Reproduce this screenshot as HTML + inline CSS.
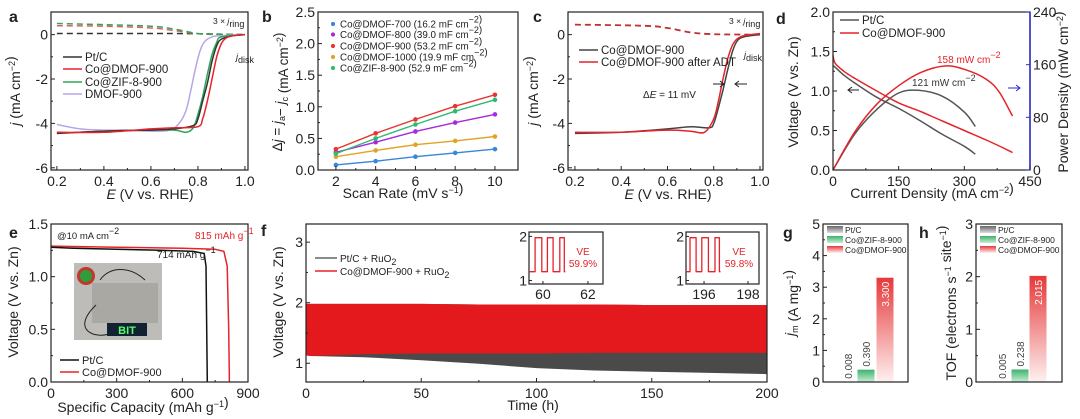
<!DOCTYPE html>
<html><head><meta charset="utf-8"><style>
html,body{margin:0;padding:0;background:#fff;}
svg{display:block;font-family:"Liberation Sans","Noto Sans CJK SC",sans-serif;}
</style></head><body>
<svg id="fig" width="1080" height="419" viewBox="0 0 1080 419" xmlns="http://www.w3.org/2000/svg">
<defs>
<linearGradient id="gGray" x1="0" y1="0" x2="0" y2="1"><stop offset="0" stop-color="#666"/><stop offset="1" stop-color="#ddd"/></linearGradient>
<linearGradient id="gGreen" x1="0" y1="0" x2="0" y2="1"><stop offset="0" stop-color="#3cb36a"/><stop offset="1" stop-color="#c9ecd6"/></linearGradient>
<linearGradient id="gRed" x1="0" y1="0" x2="0" y2="1"><stop offset="0" stop-color="#e5393a"/><stop offset="1" stop-color="#fff0f0"/></linearGradient>
</defs>
</svg>
<script>
// ---------- data ----------
const aE_pt=[0.2,0.4,0.6,0.7,0.78,0.8,0.82,0.84,0.86,0.88,0.9,0.95,1.0];
const aJ_pt=[-4.45,-4.35,-4.3,-4.25,-4.1,-3.8,-3.0,-2.2,-1.2,-0.5,-0.2,-0.05,0];
const aE_co=[0.2,0.4,0.6,0.7,0.8,0.82,0.84,0.86,0.88,0.9,0.92,0.95,1.0];
const aJ_co=[-4.4,-4.4,-4.25,-4.2,-4.15,-3.8,-3.0,-2.0,-1.0,-0.4,-0.15,-0.05,0];
const aE_zif=[0.2,0.4,0.6,0.7,0.75,0.78,0.8,0.82,0.84,0.86,0.88,0.9,1.0];
const aJ_zif=[-4.45,-4.35,-4.3,-4.3,-4.4,-4.2,-3.6,-2.8,-1.8,-0.9,-0.35,-0.1,0];
const aE_dm=[0.2,0.3,0.4,0.5,0.6,0.68,0.72,0.75,0.77,0.79,0.81,0.83,0.86,0.9,1.0];
const aJ_dm=[-4.05,-4.25,-4.3,-4.3,-4.35,-4.3,-4.0,-3.4,-2.5,-1.5,-0.7,-0.3,-0.1,-0.05,0];
const aRingE=[0.2,0.4,0.6,0.7,0.8,0.9,1.0];
const aRing_zif=[0.5,0.45,0.38,0.25,0.05,0.02,0];
const aRing_co=[0.4,0.38,0.3,0.18,0.04,0.01,0];
const aRing_pt=[0.05,0.05,0.05,0.05,0.04,0.02,0];
const bRate=[2,4,6,8,10];
const b700=[0.08,0.14,0.21,0.27,0.33];
const b800=[0.28,0.44,0.61,0.75,0.88];
const b900=[0.33,0.58,0.80,1.01,1.19];
const b1000=[0.21,0.31,0.40,0.46,0.53];
const bZif=[0.26,0.50,0.72,0.93,1.11];
const cE=[0.2,0.4,0.6,0.7,0.78,0.8,0.82,0.84,0.86,0.88,0.9,0.93,1.0];
const cJ_before=[-4.45,-4.4,-4.25,-4.15,-4.2,-4.0,-3.3,-2.5,-1.6,-0.8,-0.3,-0.1,0];
const cE2=[0.2,0.4,0.6,0.7,0.76,0.8,0.82,0.84,0.86,0.88,0.9,0.93,1.0];
const cJ_after=[-4.4,-4.4,-4.3,-4.35,-4.4,-3.8,-3.0,-2.0,-1.1,-0.5,-0.2,-0.05,0.05];
const cRingE=[0.2,0.5,0.6,0.7,0.8,1.0];
const cRing=[0.45,0.4,0.3,0.1,0.02,0];
const dI_pt=[0,5,25,50,100,150,200,250,300,325];
const dV_pt=[1.32,1.3,1.2,1.1,0.92,0.78,0.62,0.45,0.3,0.2];
const dI_co=[0,5,25,50,100,150,200,250,300,350,400,410];
const dV_co=[1.45,1.35,1.25,1.16,1.0,0.85,0.74,0.62,0.5,0.38,0.25,0.22];
const dPI_pt=[0,50,100,150,195,250,300,325];
const dP_pt=[0,55,92,117,121,112,88,66];
const dPI_co=[0,50,100,150,200,255,300,350,380,410];
const dP_co=[0,58,100,128,148,158,153,138,118,82];
const eC_pt=[0,100,300,500,650,700,708,714];
const eV_pt=[1.28,1.27,1.26,1.25,1.24,1.22,1.1,0];
const eC_co=[0,300,600,750,790,805,812,815];
const eV_co=[1.29,1.28,1.27,1.26,1.24,1.1,0.5,0];
const fT=[0,2,25,50,75,100,125,150,175,200];
const fRedTop=[1.98,1.98,1.98,1.98,1.97,1.97,1.97,1.96,1.96,1.96];
const fRedBot=[1.13,1.12,1.15,1.16,1.16,1.16,1.17,1.17,1.17,1.17];
const fGrayBot=[1.13,1.12,1.1,1.05,0.99,0.92,0.88,0.86,0.84,0.82];
const in1T=[59.38,59.65,59.65,59.95,59.95,60.2,60.2,60.45,60.45,60.75,60.75,60.95,60.95,61.0];
const in1V=[1.2,1.2,1.97,1.97,1.2,1.2,1.97,1.97,1.2,1.2,1.97,1.97,1.2,1.2];
const in2T=[195.18,195.36,195.36,195.64,195.64,195.9,195.9,196.2,196.2,196.5,196.5,196.7,196.7,196.75];
const in2V=[1.2,1.2,1.97,1.97,1.2,1.2,1.97,1.97,1.2,1.2,1.97,1.97,1.2,1.2];
const barCats=["Pt/C","Co@ZIF-8-900","Co@DMOF-900"];
const gVals=[0.008,0.390,3.300];
const gLabels=["0.008","0.390","3.300"];
const hVals=[0.005,0.238,2.015];
const hLabels=["0.005","0.238","2.015"];

// ---------- helpers ----------
const NS="http://www.w3.org/2000/svg";
const svg=document.getElementById('fig');
function el(tag,attrs,name,parent){
  const e=document.createElementNS(NS,tag);
  for(const k in attrs)e.setAttribute(k,attrs[k]);
  
  
  (parent||svg).appendChild(e);return e;
}
function txt(x,y,html,name,o){
  o=o||{};
  const t=el('text',{x:x,y:y,'font-size':o.fs||14,fill:o.fill||'#222','text-anchor':o.anchor||'middle'},name);
  if(o.rot)t.setAttribute('transform','rotate('+o.rot+' '+x+' '+y+')');
  if(o.bold)t.setAttribute('font-weight','bold');
  t.innerHTML=html;return t;
}
function P(x0,x1,y0,y1,xd,yd){return {x0,x1,y0,y1,X:v=>x0+(v-xd[0])/(xd[1]-xd[0])*(x1-x0),Y:v=>y1-(v-yd[0])/(yd[1]-yd[0])*(y1-y0)};}
function box(p,name){el('rect',{x:p.x0,y:p.y0,width:p.x1-p.x0,height:p.y1-p.y0,fill:'none',stroke:'#222','stroke-width':1.2},name);}
function xt(p,vals,labs,name,minor){
  vals.forEach((v,i)=>{const x=p.X(v);
    el('line',{x1:x,x2:x,y1:p.y1,y2:p.y1-4,stroke:'#222'},name+'-tick');
    txt(x,p.y1+16,labs[i],name+'-label');});
  (minor||[]).forEach(v=>{const x=p.X(v);el('line',{x1:x,x2:x,y1:p.y1,y2:p.y1-2,stroke:'#222'},name+'-minor');});
}
function yt(p,vals,labs,name,minor){
  vals.forEach((v,i)=>{const y=p.Y(v);
    el('line',{x1:p.x0,x2:p.x0+4,y1:y,y2:y,stroke:'#222'},name+'-tick');
    txt(p.x0-3,y+5,labs[i],name+'-label',{anchor:'end'});});
  (minor||[]).forEach(v=>{const y=p.Y(v);el('line',{x1:p.x0,x2:p.x0+2,y1:y,y2:y,stroke:'#222'},name+'-minor');});
}
function path(p,xs,ys,color,name,o){
  o=o||{};
  const d=xs.map((x,i)=>(i?'L':'M')+p.X(x).toFixed(1)+','+p.Y(ys[i]).toFixed(1)).join('');
  const e=el('path',{d:d,fill:'none',stroke:color,'stroke-width':o.w||1.5,'stroke-linejoin':'round'},name);
  if(o.dash)e.setAttribute('stroke-dasharray',o.dash);
  return e;
}
function smooth(p,xs,ys,color,name,o){
  const pts=xs.map((x,i)=>[p.X(x),p.Y(ys[i])]);
  let d='M'+pts[0][0]+','+pts[0][1];
  for(let i=0;i<pts.length-1;i++){
    const p0=pts[Math.max(0,i-1)],p1=pts[i],p2=pts[i+1],p3=pts[Math.min(pts.length-1,i+2)];
    const c1=[p1[0]+(p2[0]-p0[0])/6,p1[1]+(p2[1]-p0[1])/6],c2=[p2[0]-(p3[0]-p1[0])/6,p2[1]-(p3[1]-p1[1])/6];
    d+='C'+c1[0].toFixed(1)+','+c1[1].toFixed(1)+' '+c2[0].toFixed(1)+','+c2[1].toFixed(1)+' '+p2[0].toFixed(1)+','+p2[1].toFixed(1);
  }
  const e=el('path',{d:d,fill:'none',stroke:color,'stroke-width':(o&&o.w)||1.5},name);
  if(o&&o.dash)e.setAttribute('stroke-dasharray',o.dash);
  return e;
}
function legLine(x,y,color,label,name,fs,len){
  el('line',{x1:x,x2:x+(len||19),y1:y,y2:y,stroke:color,'stroke-width':1.6},name+'-swatch');
  txt(x+(len||19)+3,y+4,label,name+'-text',{anchor:'start',fs:fs||11.5});
}
const sup=s=>'<tspan dy="-5" font-size="9">'+s+'</tspan><tspan dy="5"></tspan>';
const sub=s=>'<tspan dy="3" font-size="9">'+s+'</tspan><tspan dy="-3"></tspan>';
const BLK='#333',RED='#e5242a',GRN='#2ea55a',LAV='#b9a6e6';

// panel letters
[['a',9,22],['b',262,22],['c',533,22],['d',776,24],['e',9,238],['f',261,236],['g',783,238],['h',919,238]].forEach(l=>txt(l[1],l[2],l[0],'panel-label-'+l[0],{fs:16,bold:true,anchor:'start'}));

// ---------- a ----------
const pa=P(51,248,12,170,[0.175,1.013],[-6.1,1.02]);
smooth(pa,aRingE,aRing_pt,BLK,'a-ring-ptc',{dash:'6,4'});
smooth(pa,aRingE,aRing_co,'#e06060','a-ring-co',{dash:'6,4'});
smooth(pa,aRingE,aRing_zif,GRN,'a-ring-zif',{dash:'6,4'});
smooth(pa,aE_dm,aJ_dm,LAV,'a-line-dmof900');
smooth(pa,aE_zif,aJ_zif,GRN,'a-line-zif');
smooth(pa,aE_pt,aJ_pt,BLK,'a-line-ptc');
smooth(pa,aE_co,aJ_co,RED,'a-line-co-dmof900');
box(pa,'a-plot-frame');
xt(pa,[0.2,0.4,0.6,0.8,1.0],['0.2','0.4','0.6','0.8','1.0'],'a-x-tick',[0.3,0.5,0.7,0.9]);
yt(pa,[-6,-4,-2,0],['-6','-4','-2','0'],'a-y-tick',[-5,-3,-1]);
txt(150,199,'<tspan font-style="italic">E</tspan> (V vs. RHE)','a-x-axis-title');
txt(20,91,'<tspan font-style="italic">j</tspan> (mA cm'+sup('−2')+')','a-y-axis-title',{rot:-90});
txt(213,24,'3 × <tspan font-style="italic">j</tspan>'+sub('ring'),'a-ring-annotation',{fs:8.5,anchor:'start'});
txt(236,60,'<tspan font-style="italic">j</tspan>'+sub('disk'),'a-disk-annotation',{fs:9,anchor:'start'});
legLine(63,57,BLK,'Pt/C','a-legend-ptc');
legLine(63,69,RED,'Co@DMOF-900','a-legend-co-dmof');
legLine(63,82,GRN,'Co@ZIF-8-900','a-legend-zif');
legLine(63,94,LAV,'DMOF-900','a-legend-dmof');

// ---------- b ----------
const pb=P(318,518,12,170,[1.1,11.16],[0,2.5]);
const bSeries=[[b700,'#3a86d8','Co@DMOF-700 (16.2 mF cm'+sup('−2')+')'],[b800,'#a629e0','Co@DMOF-800 (39.0 mF cm'+sup('−2')+')'],[b900,'#e8352d','Co@DMOF-900 (53.2 mF cm'+sup('−2')+')'],[b1000,'#e2a325','Co@DMOF-1000 (19.9 mF cm'+sup('−2')+')'],[bZif,'#33b873','Co@ZIF-8-900 (52.9 mF cm'+sup('−2')+')']];
bSeries.forEach((s,k)=>{
  path(pb,bRate,s[0],s[1],'b-fit-line-'+k,{w:1.4});
  bRate.forEach((r,i)=>el('circle',{cx:pb.X(r),cy:pb.Y(s[0][i]),r:2.3,fill:s[1]},'b-point'));
  el('circle',{cx:333,cy:[24,34.5,46,57,68][k],r:2.1,fill:s[1]},'b-legend-marker-'+k);
  txt(340,[27.5,38,49.5,60.5,71.5][k],s[2],'b-legend-text-'+k,{fs:9.8,anchor:'start'});
});
box(pb,'b-plot-frame');
xt(pb,[2,4,6,8,10],['2','4','6','8','10'],'b-x-tick',[3,5,7,9]);
yt(pb,[0,0.5,1,1.5,2,2.5],['0.0','0.5','1.0','1.5','2.0','2.5'],'b-y-tick',[0.25,0.75,1.25,1.75,2.25]);
txt(403,198,'Scan Rate (mV s'+sup('−1')+')','b-x-axis-title');
txt(282,92,'Δ<tspan font-style="italic">j</tspan> = <tspan font-style="italic">j</tspan>'+sub('a')+'− <tspan font-style="italic">j</tspan>'+sub('c')+' (mA cm'+sup('−2')+')','b-y-axis-title',{rot:-90,fs:13.5});

// ---------- c ----------
const pc=P(568,763,12,170,[0.17,1.013],[-6.1,1.02]);
smooth(pc,cRingE,cRing,'#c03030','c-ring-line',{dash:'6,4',w:1.8});
smooth(pc,cE,cJ_before,'#444','c-line-before');
smooth(pc,cE2,cJ_after,RED,'c-line-after-adt');
box(pc,'c-plot-frame');
xt(pc,[0.2,0.4,0.6,0.8,1.0],['0.2','0.4','0.6','0.8','1.0'],'c-x-tick',[0.3,0.5,0.7,0.9]);
yt(pc,[-6,-4,-2,0],['-6','-4','-2','0'],'c-y-tick',[-5,-3,-1]);
txt(668,199,'<tspan font-style="italic">E</tspan> (V vs. RHE)','c-x-axis-title');
txt(538,91,'<tspan font-style="italic">j</tspan> (mA cm'+sup('−2')+')','c-y-axis-title',{rot:-90});
txt(729,24,'3 × <tspan font-style="italic">j</tspan>'+sub('ring'),'c-ring-annotation',{fs:8.5,anchor:'start'});
txt(744,58,'<tspan font-style="italic">j</tspan>'+sub('disk'),'c-disk-annotation',{fs:9,anchor:'start'});
txt(643,98,'Δ<tspan font-style="italic">E</tspan> = 11 mV','c-delta-e-label',{fs:10,anchor:'start'});
el('path',{d:'M713,84L724,84M720,81L724,84L720,87',stroke:'#222',fill:'none'},'c-arrow-right');
el('path',{d:'M747,84L735,84M739,81L735,84L739,87',stroke:'#222',fill:'none'},'c-arrow-left');
legLine(579,50,'#444','Co@DMOF-900','c-legend-before');
legLine(579,62,RED,'Co@DMOF-900 after ADT','c-legend-after');

// ---------- d ----------
const pd=P(833,1030,12,170,[0,450],[0,2]);
const pdr=P(833,1030,12,170,[0,450],[0,240]);
smooth(pd,dI_pt,dV_pt,'#555','d-voltage-ptc');
smooth(pd,dI_co,dV_co,RED,'d-voltage-co');
smooth(pdr,dPI_pt,dP_pt,'#555','d-power-ptc');
smooth(pdr,dPI_co,dP_co,RED,'d-power-co');
box(pd,'d-plot-frame');
el('line',{x1:1030,x2:1030,y1:12,y2:170,stroke:'#2a2ad0','stroke-width':1.5},'d-right-axis');
xt(pd,[0,150,300,450],['0','150','300','450'],'d-x-tick',[75,225,375]);
yt(pd,[0,0.5,1,1.5,2],['0.0','0.5','1.0','1.5','2.0'],'d-y-tick',[0.25,0.75,1.25,1.75]);
[0,80,160,240].forEach(v=>{const y=pdr.Y(v);el('line',{x1:1030,x2:1026,y1:y,y2:y,stroke:'#2a2ad0'},'d-right-tick');txt(1033,y+5,String(v),'d-right-tick-label',{anchor:'start'});});
txt(932,198,'Current Density (mA cm'+sup('−2')+')','d-x-axis-title');
txt(798,92,'Voltage (V vs. Zn)','d-y-axis-title',{rot:-90});
txt(1068,92,'Power Density (mW cm'+sup('−2')+')','d-right-axis-title',{rot:-90});
txt(937,63,'158 mW cm'+sup('−2'),'d-peak-co-label',{fs:10,fill:RED,anchor:'start'});
txt(912,86,'121 mW cm'+sup('−2'),'d-peak-ptc-label',{fs:10,fill:'#333',anchor:'start'});
el('path',{d:'M859,90L848,90M852,87L848,90L852,93',stroke:'#222',fill:'none'},'d-arrow-left-axis');
el('path',{d:'M1008,88L1020,88M1016,85L1020,88L1016,91',stroke:'#2a2ad0',fill:'none'},'d-arrow-right-axis');
legLine(840,20,'#555','Pt/C','d-legend-ptc');
legLine(840,33,RED,'Co@DMOF-900','d-legend-co');

// ---------- e ----------
const pe=P(51,248,224,382,[0,900],[0,1.5]);
el('rect',{x:74,y:263,width:88,height:77,fill:'#bdbcb8'},'e-device-photo');
el('circle',{cx:86,cy:276,r:9,fill:'#c0392b'},'e-photo-logo');
el('circle',{cx:86,cy:276,r:6,fill:'#2e9e3a'},'e-photo-logo-inner');
el('rect',{x:92,y:283,width:66,height:40,fill:'#a9a8a3'},'e-photo-cells');
el('path',{d:'M100,280C110,266 130,266 145,280M96,305C70,330 95,340 112,333',stroke:'#222',fill:'none'},'e-photo-wires');
el('rect',{x:107,y:323,width:40,height:13,fill:'#123'},'e-photo-led-board');
txt(127,334,'BIT','e-photo-led-text',{fs:11,fill:'#5f6',bold:true});
path(pe,eC_co,eV_co,RED,'e-discharge-co');
path(pe,eC_pt,eV_pt,'#111','e-discharge-ptc');
box(pe,'e-plot-frame');
xt(pe,[0,300,600,900],['0','300','600','900'],'e-x-tick',[150,450,750]);
yt(pe,[0,0.5,1,1.5],['0.0','0.5','1.0','1.5'],'e-y-tick',[0.25,0.75,1.25]);
txt(143,412,'Specific Capacity (mAh g'+sup('−1')+')','e-x-axis-title');
txt(18,302,'Voltage (V vs. Zn)','e-y-axis-title',{rot:-90});
txt(57,239,'@10 mA cm'+sup('−2'),'e-current-label',{fs:9.5,anchor:'start'});
txt(195,239,'815 mAh g'+sup('−1'),'e-capacity-co',{fs:10,fill:RED,anchor:'start'});
txt(157,258,'714 mAh g'+sup('−1'),'e-capacity-ptc',{fs:10,anchor:'start'});
legLine(60,360,'#111','Pt/C','e-legend-ptc',11);
legLine(60,372,RED,'Co@DMOF-900','e-legend-co',11);

// ---------- f ----------
const pf=P(306,767,224,382,[0,200],[0.69,3.30]);
function band(p,xs,top,bot,color,name){
  let d=xs.map((x,i)=>(i?'L':'M')+p.X(x).toFixed(1)+','+p.Y(top[i]).toFixed(1)).join('');
  for(let i=xs.length-1;i>=0;i--)d+='L'+p.X(xs[i]).toFixed(1)+','+p.Y(bot[i]).toFixed(1);
  el('path',{d:d+'Z',fill:color},name);
}
band(pf,fT,fRedTop,fGrayBot,'#4a4a4a','f-band-ptc-ruo2');
band(pf,fT,fRedTop,fRedBot,'#e3191d','f-band-co-ruo2');
box(pf,'f-plot-frame');
xt(pf,[0,50,100,150,200],['0','50','100','150','200'],'f-x-tick',[25,75,125,175]);
yt(pf,[1,2,3],['1','2','3'],'f-y-tick',[1.5,2.5]);
txt(533,410,'Time (h)','f-x-axis-title');
txt(283,302,'Voltage (V vs. Zn)','f-y-axis-title',{rot:-90});
legLine(315,258,'#666','Pt/C + RuO'+sub('2'),'f-legend-ptc',10,22);
legLine(315,271,RED,'Co@DMOF-900 + RuO'+sub('2'),'f-legend-co',10,22);
function inset(x0,x1,xd,T,V,ticks,lab,ve,name){
  const p=P(x0,x1,232,284,xd,[0.92,2.1]);
  el('rect',{x:x0,y:232,width:x1-x0,height:52,fill:'#fff',stroke:'#222','stroke-width':1.2},name+'-frame');
  path(p,T,V,RED,name+'-line',{w:1.3});
  ticks.forEach((v,i)=>{const x=p.X(v);el('line',{x1:x,x2:x,y1:284,y2:281,stroke:'#222'},name+'-x-tick');txt(x,299,lab[i],name+'-x-label');});
  [1,2].forEach(v=>{const y=p.Y(v);el('line',{x1:x0,x2:x0+3,y1:y,y2:y,stroke:'#222'},name+'-y-tick');txt(x0-2,y+5,String(v),name+'-y-label',{anchor:'end'});});
  txt(x1-20,255,'VE','f-ve-label',{fs:10,fill:RED});
  txt(x1-20,267,ve,'f-ve-value',{fs:10,fill:RED});
}
inset(529,603,[59.38,62.67],in1T,in1V,[60,62],['60','62'],'59.9%','f-inset-60h');
inset(686,759,[195.18,198.5],in2T,in2V,[196,198],['196','198'],'59.8%','f-inset-196h');

// ---------- g & h bars ----------
const fills=['url(#gGray)','url(#gGreen)','url(#gRed)'];
function bars(p,vals,labs,cx,w,name){
  vals.forEach((v,i)=>{
    const y=p.Y(v),x=cx[i]-w/2;
    el('rect',{x:x,y:y,width:w,height:p.y1-y,fill:fills[i]},name+'-bar-'+i);
    if(i<2)txt(cx[i]+4,y-3,labs[i],name+'-value-'+i,{fs:10,rot:-90,anchor:'start',fill:'#444'});
    else txt(cx[i]+4,y+4,labs[i],name+'-value-'+i,{fs:10,rot:-90,anchor:'end',fill:'#fff'});
  });
  barCats.forEach((c,i)=>{
    el('rect',{x:p.x0+4,y:p.y0+2+i*10,width:16,height:7,fill:fills[i]},name+'-legend-swatch-'+i);
    txt(p.x0+22,p.y0+9+i*10,c,name+'-legend-text-'+i,{fs:8.5,anchor:'start'});
  });
}
const pg=P(823,908,224,382,[0,1],[0,5]);
bars(pg,gVals,gLabels,[848,866,885],17,'g');
box(pg,'g-plot-frame');
yt(pg,[0,1,2,3,4,5],['0','1','2','3','4','5'],'g-y-tick',[0.5,1.5,2.5,3.5,4.5]);
txt(795,303,'<tspan font-style="italic">j</tspan>'+sub('m')+' (A mg'+sup('−1')+')','g-y-axis-title',{rot:-90});
const ph=P(976,1062,224,382,[0,1],[0,3]);
bars(ph,hVals,hLabels,[1002,1020,1038],17,'h');
box(ph,'h-plot-frame');
yt(ph,[0,1,2,3],['0','1','2','3'],'h-y-tick',[0.5,1.5,2.5]);
txt(956,303,'TOF (electrons s'+sup('−1')+' site'+sup('−1')+')','h-y-axis-title',{rot:-90});
</script>
</body></html>
